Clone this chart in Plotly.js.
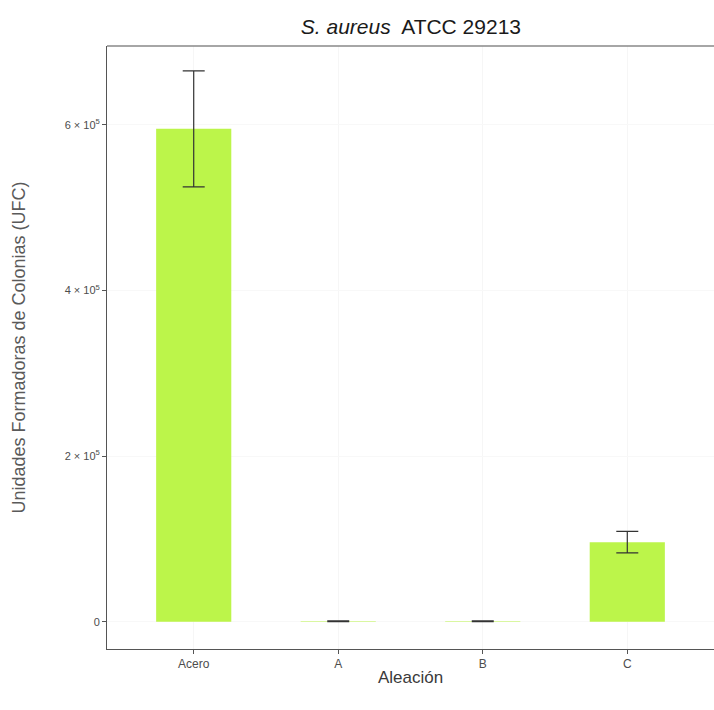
<!DOCTYPE html>
<html>
<head>
<meta charset="utf-8">
<script src="https://cdn.plot.ly/plotly-3.0.1.min.js"></script>
<style>html,body{margin:0;padding:0;background:#fff;}#chart{width:714px;height:710px;}</style>
</head>
<body>
<div id="chart"></div>
<script>
var categories = ["Acero", "A", "B", "C"];
var ufcMean = [595000, 500, 500, 96000];
var ufcError = [70000, 500, 500, 13000];
var yTickValues = [0, 200000, 400000, 600000];
var yTickLabels = ["0", "2 × 10<sup>5</sup>", "4 × 10<sup>5</sup>", "6 × 10<sup>5</sup>"];

var FONT = "Liberation Sans, Arial, sans-serif";

var trace = {
  type: "bar",
  x: categories,
  y: ufcMean,
  width: 0.52,
  marker: {color: "#bcf54a", line: {width: 0}},
  error_y: {type: "data", array: ufcError, visible: true, color: "#333333", thickness: 1.2, width: 11},
  hoverinfo: "none"
};

var layout = {
  width: 714, height: 710,
  margin: {l: 107, r: 0, t: 46, b: 61},
  paper_bgcolor: "#ffffff",
  plot_bgcolor: "#ffffff",
  showlegend: false,
  title: {
    text: "<i>S. aureus</i>  ATCC 29213",
    font: {family: FONT, size: 21, color: "#1a1a1a"},
    x: 0.5755, xanchor: "center", y: 0.962, yanchor: "middle"
  },
  xaxis: {
    type: "category",
    range: [-0.6, 3.6],
    showgrid: true, gridcolor: "#f6f6f6", gridwidth: 1,
    showline: true, linecolor: "#555555", linewidth: 1,
    ticks: "outside", ticklen: 4, tickcolor: "#555555",
    tickfont: {family: FONT, size: 12, color: "#4d4d4d"},
    title: {text: "Aleación", font: {family: FONT, size: 17, color: "#3a3a3a"}, standoff: 0},
    zeroline: false
  },
  yaxis: {
    range: [-33000, 695000],
    tickvals: yTickValues,
    ticktext: yTickLabels,
    showgrid: true, gridcolor: "#f8f8f8", gridwidth: 1,
    showline: true, linecolor: "#555555", linewidth: 1,
    ticks: "outside", ticklen: 4, tickcolor: "#555555",
    tickfont: {family: FONT, size: 11, color: "#4d4d4d"},
    title: {text: "Unidades Formadoras de Colonias (UFC)", font: {family: FONT, size: 18, color: "#5a5a5a"}, standoff: 34},
    zeroline: false
  },
  shapes: [
    {type: "line", xref: "paper", yref: "paper", x0: 0, x1: 1, y0: 1, y1: 1, line: {color: "#888888", width: 1.5}}
  ]
};

Plotly.newPlot("chart", [trace], layout, {displayModeBar: false, staticPlot: true});
</script>
</body>
</html>
